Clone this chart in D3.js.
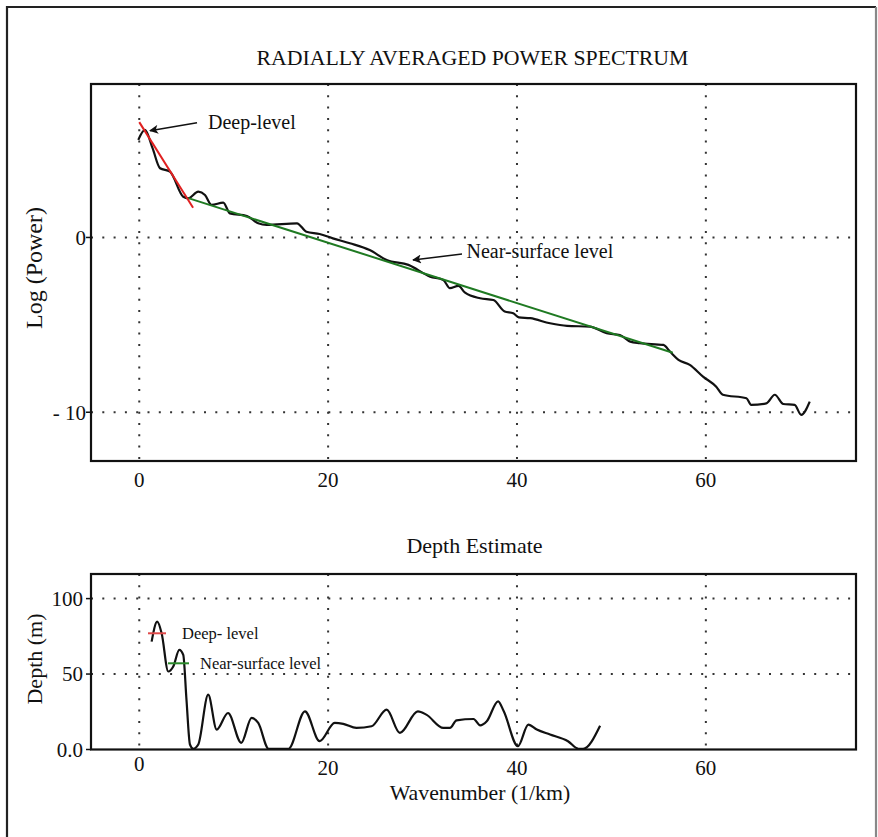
<!DOCTYPE html>
<html>
<head>
<meta charset="utf-8">
<script src="https://cdn.jsdelivr.net/npm/d3@7/dist/d3.min.js"></script>
<style>
  body { margin: 0; background: #fff; }
  svg text { font-family: 'Liberation Serif', 'DejaVu Serif', 'Times New Roman', Times, serif; fill: #111; }
  .grid { stroke: #333; stroke-width: 2; stroke-dasharray: 2 9.3; }
  .frame { fill: none; stroke: #111; stroke-width: 2.2; }
</style>
</head>
<body>
<svg id="chart" width="878" height="837" font-family="Liberation Serif, DejaVu Serif, serif"></svg>
<script>
// wavenumber ticks shared by both panels
var kTicks = [0, 20, 40, 60];

// radially averaged power spectrum (log power vs wavenumber)
var powerK = [-0.1, 0.6, 1.4, 2.2, 3.25, 4.66, 5.19, 6.25, 6.96, 7.66, 8.9, 9.6, 11.4, 12.6, 13.5,
  16.7, 17.7, 19.1, 20.5, 22.3, 24.4, 26.2, 28.5, 30.8, 32.2, 32.9, 33.8, 34.5, 36.1, 37.5, 38.7,
  39.6, 40.2, 41.4, 43.5, 45.3, 47.7, 49.5, 50.9, 52.0, 53.0, 55.5, 56.2, 57.1, 58.3, 59.7, 61.1,
  61.8, 64.3, 64.8, 66.4, 67.3, 68.2, 69.4, 70.1, 71.0];
var powerLog = [5.58, 6.15, 5.12, 3.96, 3.77, 2.33, 2.24, 2.62, 2.43, 1.86, 1.99, 1.38, 1.23, 0.81, 0.72,
  0.81, 0.33, 0.2, -0.05, -0.33, -0.72, -1.29, -1.57, -2.24, -2.43, -2.9, -2.77, -3.16, -3.48, -3.58, -4.24,
  -4.34, -4.57, -4.62, -4.91, -5.06, -5.1, -5.48, -5.58, -5.96, -6.05, -6.15, -6.53, -7.0, -7.29, -7.96, -8.54,
  -9.0, -9.2, -9.58, -9.49, -9.0, -9.53, -9.58, -10.15, -9.39];

// straight line fits [k, logPower]
var deepFit = [[0, 6.6], [5.7, 1.7]];
var nearFit = [[5.2, 2.25], [56.5, -6.6]];

var powerTicks = [0, -10];
var powerTickLabels = ["0", "- 10"];

// depth estimate
var depthK = [1.31, 1.9, 2.37, 3.07, 3.6, 4.24, 4.66, 5.0, 5.37, 5.72, 6.25, 7.3, 8.2, 9.4, 10.8, 11.9,
  12.6, 13.7, 15.8, 17.55, 19.1, 20.7, 21.6, 23.0, 24.6, 26.2, 27.6, 29.5, 30.4, 32.2, 32.9, 33.6, 35.4,
  36.1, 36.8, 38.0, 38.6, 40.1, 41.2, 42.1, 43.5, 45.4, 46.5, 47.0, 48.8];
var depthVal = [71.5, 84.7, 77, 51.7, 55, 66, 62.7, 33, 3.3, 0.5, 3.3, 36.3, 13.2, 24.2, 4.4, 20.9,
  17.6, 0.5, 0.5, 25.3, 5.5, 17.6, 17, 14.3, 15.4, 26.4, 11, 25.3, 23.1, 14.3, 14.3, 19.3, 20.2,
  16, 18.7, 31.9, 25.3, 2.2, 16.5, 13.2, 9.9, 5.5, 0.5, 0.5, 15.8];

var depthTicks = [0, 50, 100];
var depthTickLabels = ["0.0", "50", "100"];

var svg = d3.select("#chart");

// outer border (left, top, right only)
svg.append("path").attr("d", "M7,837V7H876").attr("fill", "none").attr("stroke", "#222").attr("stroke-width", 2.2);
svg.append("line").attr("x1", 876).attr("x2", 876).attr("y1", 7).attr("y2", 837)
  .attr("stroke", "#888").attr("stroke-width", 2.2);

var defs = svg.append("defs");
defs.append("marker").attr("id", "arrow")
  .attr("viewBox", "0 0 10 10").attr("refX", 9).attr("refY", 5)
  .attr("markerWidth", 14).attr("markerHeight", 9).attr("markerUnits", "userSpaceOnUse")
  .attr("orient", "auto")
  .append("path").attr("d", "M0,0L10,5L0,10L2.5,5Z").attr("fill", "#111");

var left = 91, right = 856;
var x = d3.scaleLinear().domain([-5.11, 75.9]).range([left, right]);

// ---------- top panel ----------
var yTop = d3.scaleLinear().domain([-12.79, 8.78]).range([461, 84]);

svg.append("text").attr("x", 472.5).attr("y", 65).attr("text-anchor", "middle")
  .style("font-size", "21.8px").text("RADIALLY AVERAGED POWER SPECTRUM");

var gTop = svg.append("g");
gTop.selectAll("line.vg").data(kTicks).enter().append("line").attr("class", "grid")
  .attr("x1", d => x(d)).attr("x2", d => x(d)).attr("y1", 84).attr("y2", 461);
gTop.selectAll("line.hg").data(powerTicks).enter().append("line").attr("class", "grid")
  .attr("x1", left).attr("x2", right).attr("y1", d => yTop(d)).attr("y2", d => yTop(d));

var line = d3.line().x(d => x(d[0])).y(d => yTop(d[1])).curve(d3.curveMonotoneX);
gTop.append("path").datum(powerK.map((k, i) => [k, powerLog[i]]))
  .attr("d", line).attr("fill", "none").attr("stroke", "#111").attr("stroke-width", 2.2);

gTop.append("path").datum(nearFit).attr("d", d3.line().x(d => x(d[0])).y(d => yTop(d[1])))
  .attr("stroke", "#1f7a22").attr("stroke-width", 2).attr("fill", "none");
gTop.append("path").datum(deepFit).attr("d", d3.line().x(d => x(d[0])).y(d => yTop(d[1])))
  .attr("stroke", "#e02020").attr("stroke-width", 2).attr("fill", "none");

gTop.append("rect").attr("class", "frame").attr("x", left).attr("y", 84)
  .attr("width", right - left).attr("height", 461 - 84);

// y ticks
gTop.selectAll("line.yt").data(powerTicks).enter().append("line")
  .attr("x1", left - 5).attr("x2", left).attr("y1", d => yTop(d)).attr("y2", d => yTop(d))
  .attr("stroke", "#111").attr("stroke-width", 1.5);
gTop.selectAll("text.yl").data(powerTicks).enter().append("text")
  .attr("x", left - 5).attr("y", d => yTop(d)).attr("dy", "0.35em").attr("text-anchor", "end")
  .style("font-size", "21px").text((d, i) => powerTickLabels[i]);
gTop.selectAll("text.xl").data(kTicks).enter().append("text")
  .attr("x", d => x(d)).attr("y", 487).attr("text-anchor", "middle")
  .style("font-size", "21px").text(d => d);

svg.append("text").attr("transform", "translate(42,268) rotate(-90)").attr("text-anchor", "middle")
  .style("font-size", "24px").text("Log (Power)");

// annotations
svg.append("line").attr("x1", 197).attr("y1", 122.7).attr("x2", 150).attr("y2", 130.7)
  .attr("stroke", "#111").attr("stroke-width", 1.5).attr("marker-end", "url(#arrow)");
svg.append("text").attr("x", 208).attr("y", 128.5).style("font-size", "20px").text("Deep-level");
svg.append("line").attr("x1", 462).attr("y1", 254).attr("x2", 413).attr("y2", 260)
  .attr("stroke", "#111").attr("stroke-width", 1.5).attr("marker-end", "url(#arrow)");
svg.append("text").attr("x", 466.5).attr("y", 257.5).style("font-size", "20px").text("Near-surface level");

// ---------- bottom panel ----------
var yBot = d3.scaleLinear().domain([0, 116.3]).range([749.5, 574]);

svg.append("text").attr("x", 474.5).attr("y", 553).attr("text-anchor", "middle")
  .style("font-size", "22px").text("Depth Estimate");

var gBot = svg.append("g");
gBot.selectAll("line.vg").data(kTicks).enter().append("line").attr("class", "grid")
  .attr("x1", d => x(d)).attr("x2", d => x(d)).attr("y1", 574).attr("y2", 749.5);
gBot.selectAll("line.hg").data(depthTicks.slice(1)).enter().append("line").attr("class", "grid")
  .attr("x1", left).attr("x2", right).attr("y1", d => yBot(d)).attr("y2", d => yBot(d));

gBot.append("path").datum(depthK.map((k, i) => [k, depthVal[i]]))
  .attr("d", d3.line().x(d => x(d[0])).y(d => yBot(d[1])).curve(d3.curveMonotoneX))
  .attr("fill", "none").attr("stroke", "#111").attr("stroke-width", 2.2);

gBot.append("rect").attr("class", "frame").attr("x", left).attr("y", 574)
  .attr("width", right - left).attr("height", 749.5 - 574);

gBot.selectAll("line.yt").data(depthTicks).enter().append("line")
  .attr("x1", left - 5).attr("x2", left).attr("y1", d => yBot(d)).attr("y2", d => yBot(d))
  .attr("stroke", "#111").attr("stroke-width", 1.5);
gBot.selectAll("text.yl").data(depthTicks).enter().append("text")
  .attr("x", left - 8).attr("y", d => yBot(d)).attr("dy", "0.35em").attr("text-anchor", "end")
  .style("font-size", "21px").text((d, i) => depthTickLabels[i]);
gBot.selectAll("text.xl").data(kTicks).enter().append("text")
  .attr("x", d => x(d)).attr("y", d => d === 0 ? 771 : 775).attr("text-anchor", "middle")
  .style("font-size", "21px").text(d => d);

svg.append("text").attr("transform", "translate(42,659) rotate(-90)").attr("text-anchor", "middle")
  .style("font-size", "22px").text("Depth (m)");
svg.append("text").attr("x", 480).attr("y", 800).attr("text-anchor", "middle")
  .style("font-size", "21.8px").text("Wavenumber (1/km)");

// legend
var legend = [
  { label: "Deep- level", color: "#e04a4a", x0: 148, x1: 166, y: 633.3, tx: 182 },
  { label: "Near-surface level", color: "#2a8a2a", x0: 168, x1: 189, y: 663.3, tx: 200 }
];
legend.forEach(function(l) {
  svg.append("line").attr("x1", l.x0).attr("x2", l.x1).attr("y1", l.y).attr("y2", l.y)
    .attr("stroke", l.color).attr("stroke-width", 2);
  svg.append("text").attr("x", l.tx).attr("y", l.y).attr("dy", "0.33em")
    .style("font-size", "16.5px").text(l.label);
});
</script>
</body>
</html>
